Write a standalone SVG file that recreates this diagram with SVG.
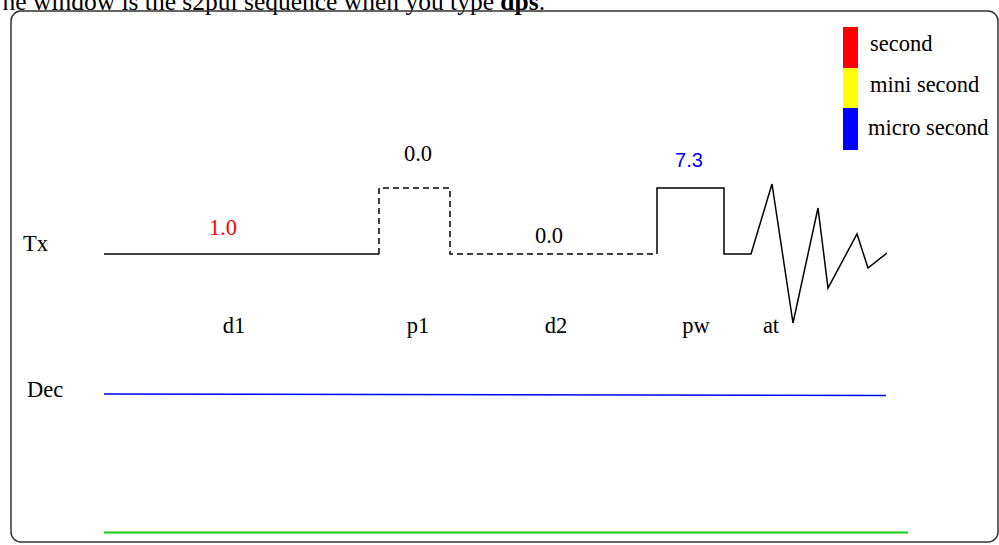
<svg xmlns="http://www.w3.org/2000/svg" width="999" height="545" viewBox="0 0 999 545">
<style>
text{font-family:"Liberation Serif","Times New Roman",serif;font-size:22.5px;fill:#000}
.sig{fill:none;stroke:#000;stroke-width:1.5}
.dash{stroke-dasharray:6,4}
</style>
<rect width="999" height="545" fill="#fff"/>
<text x="545" y="10" text-anchor="end" style="font-size:25.5px">The window is the s2pul sequence when you type <tspan font-weight="bold">dps</tspan>.</text>
<rect id="frame" x="11" y="11" width="987" height="531" rx="10" fill="none" stroke="#333" stroke-width="1.5"/>
<g id="legend">
<rect x="843" y="27" width="15" height="41" fill="#f00"/>
<rect x="843" y="68" width="15" height="40" fill="#ff0"/>
<rect x="843" y="108" width="15" height="42" fill="#00f"/>
<text x="870" y="51">second</text>
<text x="870" y="92">mini second</text>
<text x="868" y="135">micro second</text>
</g>
<g id="labels">
<text x="23" y="251">Tx</text>
<text x="27" y="397">Dec</text>
<text x="223" y="235" text-anchor="middle" style="fill:#f00">1.0</text>
<text x="418" y="161" text-anchor="middle">0.0</text>
<text x="549" y="243" text-anchor="middle">0.0</text>
<text x="689" y="167" text-anchor="middle" style="fill:#00f;font-family:'Liberation Sans',Arial,sans-serif;font-size:20px">7.3</text>
<text x="234" y="333" text-anchor="middle">d1</text>
<text x="418" y="333" text-anchor="middle">p1</text>
<text x="556" y="333" text-anchor="middle">d2</text>
<text x="696" y="333" text-anchor="middle">pw</text>
<text x="771" y="333" text-anchor="middle">at</text>
</g>
<g id="connectors">
<polyline class="sig" points="104,254 379,254"/>
<polyline class="sig dash" points="379,254 379,188 450,188 450,254 657,254"/>
<polyline class="sig" points="657,254 657,188 724,188 724,254 751,254 772,184 793,323 818,208 828,288 857,234 868,268 887,253"/>
<line x1="104" y1="394" x2="886" y2="395.5" stroke="#00f" stroke-width="1.5"/>
<line x1="104" y1="532.5" x2="908" y2="532.5" stroke="#1c1" stroke-width="2"/>
</g>
</svg>
